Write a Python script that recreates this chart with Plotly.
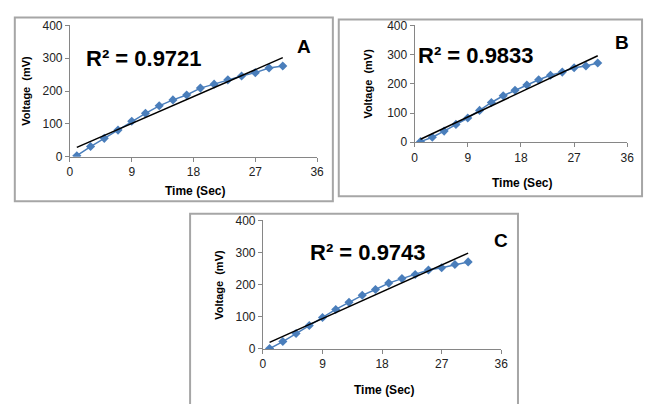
import numpy as np
import plotly.graph_objects as go

W, H = 652, 411

time_sec = [1, 3, 5, 7, 9, 11, 13, 15, 17, 19, 21, 23, 25, 27, 29, 31]
voltage_a = [3, 31, 56, 81, 108, 132, 155, 173, 188, 209, 221, 234, 246, 256, 270, 276]
voltage_b = [2, 17, 38, 61, 83, 109, 136, 159, 178, 196, 214, 229, 240, 255, 261, 271]
voltage_c = [1, 23, 48, 73, 98, 123, 145, 167, 185, 205, 219, 232, 246, 253, 263, 271]
r2_labels = ["R² = 0.9721", "R² = 0.9833", "R² = 0.9743"]
panel_letters = ["A", "B", "C"]
x_ticks = [0, 9, 18, 27, 36]
y_ticks = [0, 100, 200, 300, 400]

FONT = "Liberation Sans"
BLUE = "#4a7ebb"
AXC = "#868686"

# pixel layouts: (x0, x1, y_bottom, y_top) of plot areas
areas = [(68, 319, 155, 19), (418, 634, 140, 19), (264, 506, 354, 221)]
frames = [(12, 11, 335, 201, True), (341, 13, 649, 196, True), (190, 214, 523, 411, False)]
r2_pos = [(143, 53), (480, 50), (371, 254)]
letter_pos = [(306, 41), (629, 37), (506, 242)]
ytitle_pos = [(23, 87), (371, 79), (220, 288)]
xtitle_pos = [(195, 190), (527, 182), (387, 396)]

series = [voltage_a, voltage_b, voltage_c]

fig = go.Figure()
layout = dict(width=W, height=H, margin=dict(l=0, r=0, t=0, b=0),
              paper_bgcolor="white", plot_bgcolor="white", showlegend=False,
              shapes=[], annotations=[])

def px(x):
    return x / W

def py(y):
    return 1 - y / H

def ann(text, pos, size, angle=0):
    return dict(text=text, x=px(pos[0]), y=py(pos[1]), xref="paper", yref="paper",
                xanchor="center", yanchor="middle", showarrow=False, textangle=angle,
                font=dict(family=FONT, size=size, color="black"))

for i, vals in enumerate(series):
    n = "" if i == 0 else str(i + 1)
    xa, ya = "x" + n, "y" + n
    x0, x1, yb, yt = areas[i]
    layout["xaxis" + n] = dict(domain=[px(x0), px(x1)], range=[0, 36], tickvals=x_ticks,
                               showline=True, linecolor=AXC, linewidth=1, ticks="outside",
                               ticklen=4, tickcolor=AXC, showgrid=False, zeroline=False,
                               anchor=ya, tickfont=dict(family=FONT, size=12, color="#222"),
                               fixedrange=True)
    layout["yaxis" + n] = dict(domain=[py(yb), py(yt)], range=[0, 400], tickvals=y_ticks,
                               showline=True, linecolor=AXC, linewidth=1, ticks="outside",
                               ticklen=4, tickcolor=AXC, showgrid=False, zeroline=False,
                               anchor=xa, tickfont=dict(family=FONT, size=12, color="#222"),
                               fixedrange=True)
    fig.add_trace(go.Scatter(x=time_sec, y=vals, mode="lines+markers", xaxis=xa, yaxis=ya,
                             line=dict(color=BLUE, width=1.5),
                             marker=dict(symbol="diamond", size=7, color=BLUE)))
    k, b = np.polyfit(time_sec, vals, 1)
    tx = [time_sec[0], time_sec[-1]]
    fig.add_trace(go.Scatter(x=tx, y=[k * t + b for t in tx], mode="lines", xaxis=xa, yaxis=ya,
                             line=dict(color="black", width=1.5)))
    fx0, fy0, fx1, fy1, closed = frames[i]
    pts = [(fx0, fy1), (fx0, fy0), (fx1, fy0), (fx1, fy1)]
    path = "M " + " L ".join(f"{px(a):.5f},{py(c):.5f}" for a, c in pts) + (" Z" if closed else "")
    layout["shapes"].append(dict(type="path", xref="paper", yref="paper", path=path,
                                 line=dict(color="#a6a6a6", width=2), layer="below"))
    layout["annotations"] += [
        ann("<b>" + r2_labels[i] + "</b>", r2_pos[i], 22),
        ann("<b>" + panel_letters[i] + "</b>", letter_pos[i], 19),
        ann("<b>Voltage  (mV)</b>", ytitle_pos[i], 11, -90),
        ann("<b>Time (Sec)</b>", xtitle_pos[i], 12),
    ]

fig.update_layout(**layout)
post = (
    "var d=document.documentElement,b=document.body;"
    "d.style.margin='0';d.style.padding='0';d.style.overflow='hidden';"
    "b.style.margin='0';b.style.padding='0';b.style.overflow='hidden';"
)
fig.write_html("out.html", config={"displayModeBar": False}, post_script=post)
